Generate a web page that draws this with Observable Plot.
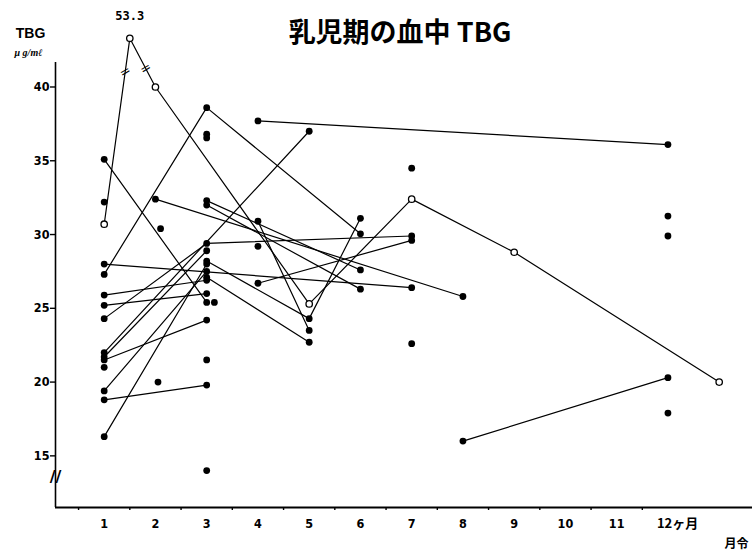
<!DOCTYPE html>
<html>
<head>
<meta charset="utf-8">
<script src="https://cdn.jsdelivr.net/npm/d3@7"></script>
<script src="https://cdn.jsdelivr.net/npm/@observablehq/plot@0.6"></script>
<style>
  html, body { margin: 0; padding: 0; background: #fff; }
  #chart svg { display: block; }
</style>
</head>
<body>
<div id="chart"></div>
<script>
// ---- data (month of age, serum TBG µg/ml) ----
const title = "乳児期の血中 TBG";
const yTicks = [15, 20, 25, 30, 35, 40];
const monthTicks = [1, 2, 3, 4, 5, 6, 7, 8, 9, 10, 11];
const lastMonthLabel = "12ヶ月";
const halfTicks = [0.5, 1.5, 2.5, 3.5, 4.5, 5.5, 6.5, 7.5, 8.5, 9.5, 10.5, 11.5];

// open-circle case (one value, 53.3, is beyond the axis break)
const openMonths = [1, 1.5, 2, 5, 7, 9, 13];
const openTBG    = [30.7, 53.3, 40.0, 25.3, 32.4, 28.8, 20.0];

// filled-circle cases, each a list of [month, TBG]
const c02 = [[4, 37.7], [12, 36.1]];
const c03 = [[8, 16.0], [12, 20.3]];
const c04 = [[1, 27.3], [3, 38.6], [6, 30.05]];
const c05 = [[1, 28.0], [7, 26.4]];
const c06 = [[2, 32.4], [8, 25.8]];
const c07 = [[3, 32.3], [6, 27.6]];
const c08 = [[3, 32.0], [6, 26.3]];
const c09 = [[4, 26.7], [7, 29.6]];
const c10 = [[1, 35.1], [3, 25.4]];
const c11 = [[1, 22.0], [5, 37.0]];
const c12 = [[1, 16.3], [3, 28.0]];
const c13 = [[1, 18.8], [3, 19.8]];
const c14 = [[1, 21.5], [3, 24.2]];
const c15 = [[1, 25.9], [3, 26.9]];
const c16 = [[3, 28.2], [5, 24.3], [6, 31.1]];
const c17 = [[3, 27.1], [5, 22.7]];
const c18 = [[1, 21.7], [3, 28.9]];
const c19 = [[1, 19.4], [3, 27.5]];
const c20 = [[1, 24.3], [3, 29.4], [7, 29.9]];
const c21 = [[1, 25.2], [3, 26.0]];
const c22 = [[4, 30.9], [5, 23.5]];

// single measurements without a connecting line
const singles = [
  [1, 32.2], [1, 21.0], [2.1, 30.4], [2.05, 20.0],
  [3, 36.8], [3, 36.55], [3.15, 25.4], [3, 21.5], [3, 14.0],
  [4, 29.2], [7, 34.5], [7, 22.6],
  [12, 31.25], [12, 29.9], [12, 17.9]
];

// ---- build rows ----
const BREAK_AT = 42, BROKEN_POS = 43.3;           // axis is broken above 40
const yPos = v => v > BREAK_AT ? BROKEN_POS : v;

const filledCases = [c02,c03,c04,c05,c06,c07,c08,c09,c10,c11,c12,c13,c14,c15,c16,c17,c18,c19,c20,c21,c22];
const lineRows = [];
filledCases.forEach((c, i) => c.forEach(([m, v]) => lineRows.push({id: "c" + i, m, v, y: yPos(v)})));
const openRows = openMonths.map((m, i) => ({id: "open", m, v: openTBG[i], y: yPos(openTBG[i])}));
const singleRows = singles.map(([m, v]) => ({m, v, y: yPos(v)}));

// break markers placed along the two segments touching the off-scale value
const bi = openTBG.findIndex(v => v > BREAK_AT);
const lerp = (a, b, t) => a + (b - a) * t;
const breakMarks = [
  {m: lerp(openRows[bi-1].m, openRows[bi].m, 0.82), y: lerp(openRows[bi-1].y, openRows[bi].y, 0.82)},
  {m: lerp(openRows[bi].m, openRows[bi+1].m, 0.62), y: lerp(openRows[bi].y, openRows[bi+1].y, 0.62)}
];

const xDomain = [0.05, 13.65];
const yDomain = [11.5, 41.66];
const numFont = "'Liberation Sans Narrow','DejaVu Sans Condensed','Liberation Sans',sans-serif";
const cjkFont = "'Noto Sans CJK JP',sans-serif";

const chart = Plot.plot({
  width: 753,
  height: 554,
  marginTop: 62,
  marginBottom: 47,
  marginLeft: 55,
  marginRight: 1,
  style: {fontFamily: numFont, fontSize: "12px", fontWeight: "bold", color: "#000", background: "#fff"},
  x: {type: "linear", domain: xDomain, axis: null},
  y: {type: "linear", domain: yDomain, axis: null},
  marks: [
    // axes
    Plot.ruleY([yDomain[0]], {stroke: "#000", strokeWidth: 2.2}),
    Plot.ruleX([xDomain[0]], {y1: yDomain[0], y2: yDomain[1], stroke: "#000", strokeWidth: 1.6}),
    Plot.axisY({ticks: yTicks, tickSize: 5, label: null, tickPadding: 1, fontSize: 12.5, fontWeight: "bold", strokeWidth: 1.4}),
    Plot.axisX({ticks: halfTicks, tickSize: 3, tickFormat: () => "", label: null, strokeWidth: 1.4}),
    Plot.text(monthTicks, {x: d => d, frameAnchor: "bottom", dy: 20, text: d => String(d), fontSize: 12.5, fontWeight: "bold"}),
    Plot.text([lastMonthLabel], {x: () => 12, frameAnchor: "bottom", dy: 20, dx: -11, textAnchor: "start", fontSize: 13, fontWeight: "bold", fontFamily: cjkFont}),
    Plot.text(["月令"], {frameAnchor: "bottom-right", dx: -4, dy: 40, textAnchor: "end", fontSize: 12, fontWeight: "bold", fontFamily: cjkFont}),
    // y axis break
    Plot.text(["//"], {x: () => xDomain[0], y: () => 13.55, fontSize: 16, fontWeight: "bold", fontFamily: "'DejaVu Sans',sans-serif"}),
    // titles
    Plot.text([title], {frameAnchor: "top", dx: -4, dy: -40, fontSize: 27, fontWeight: "bold", fontFamily: cjkFont, letterSpacing: 4}),
    Plot.text(["TBG"], {frameAnchor: "top-left", dx: -25, dy: -34, textAnchor: "middle", fontSize: 14, fontWeight: "bold", fontFamily: "'Liberation Sans',sans-serif"}),
    Plot.text(["μ g/mℓ"], {frameAnchor: "top-left", dx: -27, dy: -14, textAnchor: "middle", fontSize: 10, fontWeight: "bold", fontStyle: "italic", fontFamily: "'Liberation Serif',serif"}),
    // data lines
    Plot.line(lineRows, {x: "m", y: "y", z: "id", stroke: "#000", strokeWidth: 1.2}),
    Plot.line(openRows, {x: "m", y: "y", stroke: "#000", strokeWidth: 1.2}),
    Plot.text(breakMarks, {x: "m", y: "y", text: () => "=", rotate: -30, fontSize: 13, fontWeight: "normal", fontFamily: "'DejaVu Sans',sans-serif"}),
    // points
    Plot.dot(lineRows, {x: "m", y: "y", r: 3.4, fill: "#000", stroke: "none"}),
    Plot.dot(singleRows, {x: "m", y: "y", r: 3.4, fill: "#000", stroke: "none"}),
    Plot.dot(openRows, {x: "m", y: "y", r: 3.2, fill: "#fff", stroke: "#000", strokeWidth: 1.3}),
    Plot.text(openRows.filter(d => d.v > BREAK_AT), {x: "m", y: "y", text: d => d.v.toFixed(1), dy: -22, fontSize: 12, fontWeight: "bold", fontFamily: "'DejaVu Sans Mono',monospace"})
  ]
});
document.getElementById("chart").append(chart);
</script>
</body>
</html>
